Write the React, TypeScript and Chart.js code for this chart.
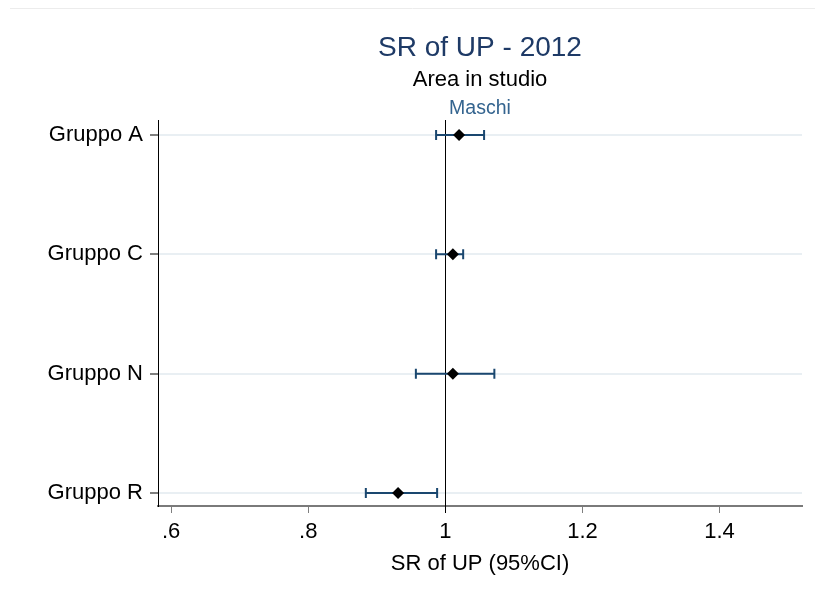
import React, { useEffect, useRef } from "react";
import { Chart, registerables } from "chart.js";

Chart.register(...registerables);

const groups = ["Gruppo A", "Gruppo C", "Gruppo N", "Gruppo R"];
const groupPos = [4, 3, 2, 1];
const estimates = [1.02, 1.011, 1.011, 0.931];
const lower = [0.9865, 0.9865, 0.957, 0.884];
const upper = [1.0565, 1.026, 1.0715, 0.988];
const xTicks = [0.6, 0.8, 1, 1.2, 1.4];
const xTickLabels = [".6", ".8", "1", "1.2", "1.4"];
const refValue = 1;

const titleText = "SR of UP - 2012";
const subtitleText = "Area in studio";
const panelText = "Maschi";
const xTitle = "SR of UP (95%CI)";

const FONT = "'Liberation Sans', Arial, sans-serif";
const BAR_COLOR = "#1a476f";

const overlay = {
  id: "overlay",
  beforeDatasetsDraw(chart: any) {
    const { ctx, chartArea, scales } = chart;
    const x = scales.x;
    const y = scales.y;
    ctx.save();
    // reference line
    const rx = Math.round(x.getPixelForValue(refValue)) + 0.5;
    ctx.strokeStyle = "#000000";
    ctx.lineWidth = 1;
    ctx.beginPath();
    ctx.moveTo(rx, chartArea.top);
    ctx.lineTo(rx, chartArea.bottom + 7);
    ctx.stroke();
    // error bars
    ctx.strokeStyle = BAR_COLOR;
    ctx.lineWidth = 2;
    groups.forEach((_, i) => {
      const yy = y.getPixelForValue(groupPos[i]);
      const x1 = x.getPixelForValue(lower[i]);
      const x2 = x.getPixelForValue(upper[i]);
      ctx.beginPath();
      ctx.moveTo(x1, yy);
      ctx.lineTo(x2, yy);
      ctx.moveTo(x1, yy - 5);
      ctx.lineTo(x1, yy + 5);
      ctx.moveTo(x2, yy - 5);
      ctx.lineTo(x2, yy + 5);
      ctx.stroke();
    });
    ctx.restore();
  },
  afterDraw(chart: any) {
    const { ctx, chartArea } = chart;
    const cx = (chartArea.left + chartArea.right) / 2;
    ctx.save();
    // faint outer border line at top
    ctx.strokeStyle = "#ececec";
    ctx.lineWidth = 1;
    ctx.beginPath();
    ctx.moveTo(10, 8.5);
    ctx.lineTo(815, 8.5);
    ctx.stroke();

    ctx.textAlign = "center";
    ctx.textBaseline = "alphabetic";
    ctx.fillStyle = "#1e3a66";
    ctx.font = `28px ${FONT}`;
    ctx.fillText(titleText, cx, 56);
    ctx.fillStyle = "#000000";
    ctx.font = `22px ${FONT}`;
    ctx.fillText(subtitleText, cx, 86);
    ctx.fillStyle = "#34648f";
    ctx.font = `19.5px ${FONT}`;
    ctx.fillText(panelText, cx, 114);
    ctx.restore();
  },
};

export default function App() {
  const ref = useRef<HTMLCanvasElement | null>(null);

  useEffect(() => {
    if (!ref.current) return;
    const chart = new Chart(ref.current, {
      type: "scatter",
      data: {
        datasets: [
          {
            data: estimates.map((v, i) => ({ x: v, y: groupPos[i] })),
            pointStyle: "rectRot",
            pointRadius: 6,
            pointBackgroundColor: "#000000",
            pointBorderColor: "#000000",
            pointBorderWidth: 0,
            showLine: false,
          },
        ],
      },
      options: {
        animation: false,
        responsive: false,
        events: [],
        layout: { padding: { top: 120, right: 13, left: 0, bottom: 0 } },
        plugins: {
          legend: { display: false },
          tooltip: { enabled: false },
          title: { display: false },
        },
        scales: {
          x: {
            type: "linear",
            min: 0.5808,
            max: 1.5203,
            afterBuildTicks: (scale: any) => {
              scale.ticks = xTicks.map((v) => ({ value: v }));
            },
            afterFit: (scale: any) => {
              scale.height = 86;
            },
            ticks: {
              autoSkip: false,
              maxRotation: 0,
              padding: 6,
              color: "#000000",
              font: { family: FONT, size: 22 },
              callback: (value: any) => {
                const idx = xTicks.findIndex((t) => Math.abs(t - Number(value)) < 1e-9);
                return idx >= 0 ? xTickLabels[idx] : "";
              },
            },
            grid: {
              drawOnChartArea: false,
              drawTicks: true,
              tickLength: 7,
              tickColor: "#7f7f7f",
              tickWidth: 1,
            },
            border: { display: true, color: "#7a7a7a", width: 2 },
            title: {
              display: true,
              text: xTitle,
              color: "#000000",
              font: { family: FONT, size: 22 },
              padding: { top: 4, bottom: 15 },
            },
          },
          y: {
            type: "linear",
            min: 0.891,
            max: 4.126,
            afterBuildTicks: (scale: any) => {
              scale.ticks = groupPos.map((v) => ({ value: v }));
            },
            afterFit: (scale: any) => {
              scale.width = 158;
            },
            ticks: {
              autoSkip: false,
              padding: 7,
              color: "#000000",
              font: { family: FONT, size: 22 },
              callback: (value: any) => {
                const idx = groupPos.indexOf(Number(value));
                return idx >= 0 ? groups[idx] : "";
              },
            },
            grid: {
              color: "#e9eff3",
              lineWidth: 2,
              drawTicks: true,
              tickLength: 8,
              tickColor: "#7f7f7f",
              tickWidth: 2,
            },
            border: { display: true, color: "#000000", width: 1 },
          },
        },
      },
      plugins: [overlay],
    });
    return () => chart.destroy();
  }, []);

  return (
    <div style={{ position: "fixed", left: 0, top: 0, width: 815, height: 592, background: "#ffffff" }}>
      <canvas ref={ref} width={815} height={592} style={{ display: "block" }} />
    </div>
  );
}
